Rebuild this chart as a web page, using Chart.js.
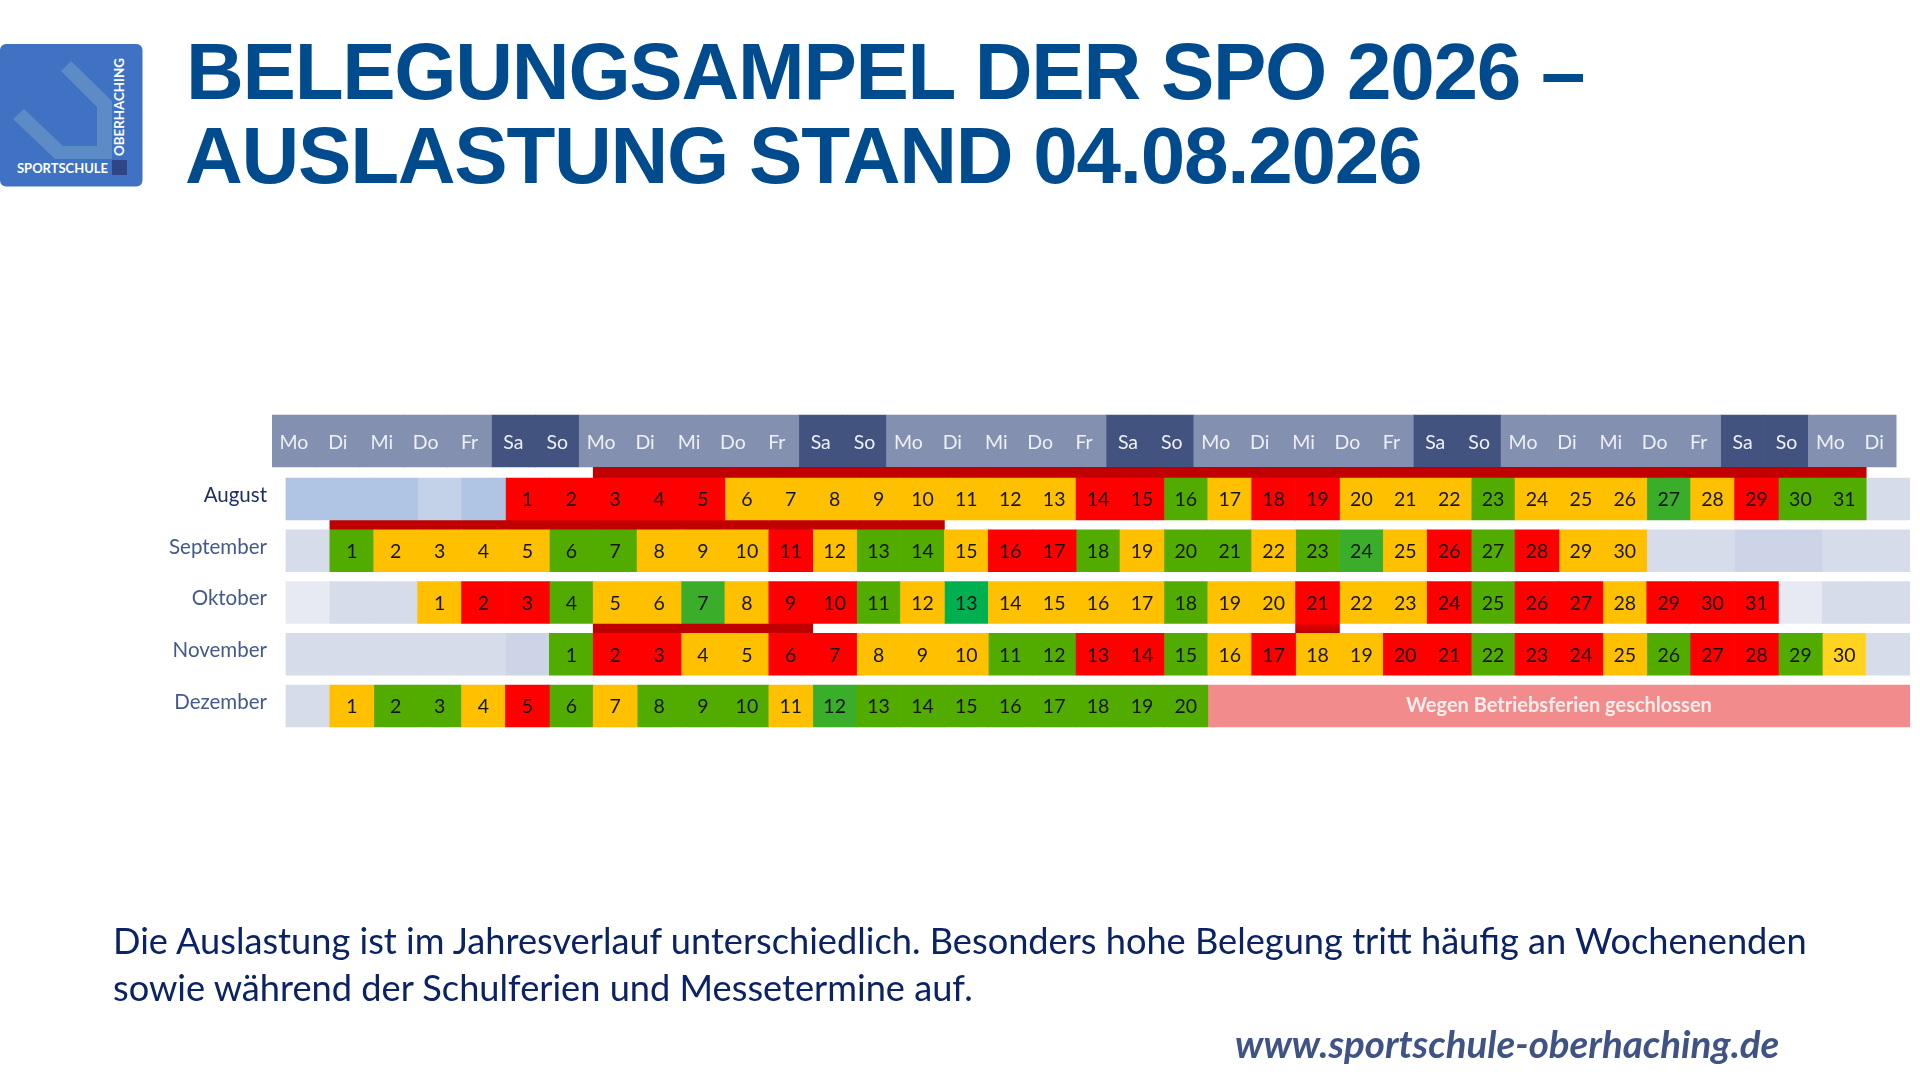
<!DOCTYPE html>
<html lang="de"><head><meta charset="utf-8"><title>Belegungsampel</title>
<script src="https://cdn.jsdelivr.net/npm/chart.js@4"></script>
<style>
html,body{margin:0;padding:0;background:#fff;width:1920px;height:1091px;overflow:hidden}
#c{position:absolute;left:0;top:0}
.t{position:absolute;white-space:nowrap;margin:0}
#t1,#t2{font:bold 80px "Liberation Sans",Arial,sans-serif;color:#004B8D;left:186px;letter-spacing:-1.25px}
#t1{top:26px}#t2{top:110px;left:185px}
.b{font:36.2px Lato,sans-serif;color:#0B2364;left:113px}
#url{font:italic bold 38.5px Lato,sans-serif;color:#3F5385;left:1235px;top:1020px}
#logo{position:absolute;left:0;top:44px}
</style></head><body>
<svg id="logo" width="143" height="143" viewBox="0 0 143 143">
<rect x="0" y="0" width="142.500" height="142.500" rx="6" fill="#3F72C2"/>
<path d="M71 17L112 57V115H55L13 75L24 65L63 102H97V63L61 27Z" fill="#5C8BC6"/>
<rect x="112" y="116" width="15" height="15" fill="#2F4586"/>
<text x="17" y="129" font-family="Lato" font-weight="700" font-size="14" fill="#fff" textLength="91" lengthAdjust="spacingAndGlyphs">SPORTSCHULE</text>
<text transform="translate(124 112) rotate(-90)" font-family="Lato" font-weight="700" font-size="14" fill="#fff" textLength="98" lengthAdjust="spacingAndGlyphs">OBERHACHING</text>
</svg>
<h1 class="t" id="t1">BELEGUNGSAMPEL DER SPO 2026 –</h1>
<h1 class="t" id="t2">AUSLASTUNG STAND 04.08.2026</h1>
<canvas id="c" width="1920" height="1091"></canvas>
<p class="t b" style="top:918px">Die Auslastung ist im Jahresverlauf unterschiedlich. Besonders hohe Belegung tritt häufig an Wochenenden</p>
<p class="t b" style="top:965px">sowie während der Schulferien und Messetermine auf.</p>
<div class="t" id="url">www.sportschule-oberhaching.de</div>
<script>
const months = ['August','September','Oktober','November','Dezember'];
const weekdays = ['Mo','Di','Mi','Do','Fr','Sa','So','Mo','Di','Mi','Do','Fr','Sa','So','Mo','Di','Mi','Do','Fr','Sa','So','Mo','Di','Mi','Do','Fr','Sa','So','Mo','Di','Mi','Do','Fr','Sa','So','Mo','Di'];
// column of the first day in each month, and its number of listed days
const monthStart = [5,1,3,6,1];
const monthDays = [31,30,31,30,20];
// status per column: r=voll, y=mittel, o=mittel hell, g=frei, l=frei hell, e=frei smaragd; b,c,d,f,h=leere Felder
const august = ['b','b','b','c','b','r','r','r','r','r','y','y','y','y','y','y','y','y','r','r','g','y','r','r','y','y','y','g','y','y','y','l','y','r','g','g','d'];
const september = ['d','g','y','y','y','y','g','g','y','y','y','r','y','g','g','y','r','r','g','y','g','g','y','g','l','y','r','g','r','y','y','d','d','f','f','d','d'];
const oktober = ['h','d','d','y','r','r','g','y','y','l','y','r','r','g','y','e','y','y','y','y','g','y','y','r','y','y','r','g','r','r','y','r','r','r','h','d','d'];
const november = ['d','d','d','d','d','f','g','r','r','y','y','r','r','y','y','y','g','g','r','r','g','y','r','y','y','r','r','g','r','r','y','g','r','r','g','o','d'];
const dezember = ['d','y','g','g','y','r','g','y','g','g','g','y','l','g','g','g','g','g','g','g','g'];
const closedRange = [21,37];
const closedLabel = 'Wegen Betriebsferien geschlossen';
// dark red bars between the rows: [row position, first column, end column]
const peakBars = [[-0.512,7,36],[0.502,1,15],[2.502,7,12]];
const peakFade = [2.502,23,24];
const headerRow = -1.1208;
const headerRule = [3,3.035];

const palette = {r:'#FF0000',y:'#FFC000',o:'#FFD320',g:'#52AC00',l:'#3AAE2A',e:'#00B050',b:'#B0C5E3',c:'#C3D2E8',d:'#D7DCEB',f:'#CDD4E7',h:'#E8EAF3'};
const rows = [august,september,oktober,november,dezember];
const groups = {};
rows.forEach((row,r)=>row.forEach((code,c)=>{
  const day = c-monthStart[r]+1;
  const inMonth = day>=1 && day<=monthDays[r];
  (groups[code]=groups[code]||[]).push({x:[c,c+1],y:r,txt:inMonth?String(day):null});
}));
const datasets = Object.keys(groups).map(code=>({
  label:code,data:groups[code],backgroundColor:palette[code],xAxisID:'x',yAxisID:'yRows',maxBarThickness:42
}));
datasets.push({label:'geschlossen',data:[{x:closedRange,y:4,closed:closedLabel}],backgroundColor:'#F28C8C',xAxisID:'x',yAxisID:'yRows',maxBarThickness:42});
datasets.push({label:'Spitze',data:peakBars.map(p=>({x:[p[1],p[2]],y:p[0]})),backgroundColor:'#C00000',xAxisID:'x',yAxisID:'yGap',maxBarThickness:10.5});
datasets.push({label:'Spitze 21.10.',data:[{x:[peakFade[1],peakFade[2]],y:peakFade[0]}],xAxisID:'x',yAxisID:'yGap',maxBarThickness:10.5,
  backgroundColor(ctx){
    const a=ctx.chart.chartArea,s=ctx.chart.scales.yGap; if(!a||!s) return '#C00000';
    const m=s.getPixelForValue(peakFade[0]);
    const g=ctx.chart.ctx.createLinearGradient(0,m-5,0,m+5);g.addColorStop(0,'#F00000');g.addColorStop(1,'#B80000');return g;
  }});
const isWeekend = d=>d==='Sa'||d==='So';
const headerData = k=>weekdays.map((d,i)=>({d,i})).filter(o=>isWeekend(o.d)===k).map(o=>({x:[o.i,o.i+1],y:headerRow}));
datasets.push({label:'Wochentag',data:headerData(false),backgroundColor:'#8390AF',xAxisID:'xHead',yAxisID:'yHead',maxBarThickness:52});
datasets.push({label:'Wochenende',data:headerData(true),backgroundColor:'#43537F',xAxisID:'xHead',yAxisID:'yHead',maxBarThickness:52});
datasets.push({label:'Trenner',data:[{x:headerRule,y:headerRow}],backgroundColor:'#C9D0E0',xAxisID:'xHead',yAxisID:'yHead',maxBarThickness:52});

const cellText = {id:'cellText',afterDatasetsDraw(chart){
  const g=chart.ctx;g.save();g.textAlign='center';g.textBaseline='middle';
  chart.data.datasets.forEach((ds,i)=>{
    const meta=chart.getDatasetMeta(i);
    ds.data.forEach((p,j)=>{
      const el=meta.data[j];
      if(p.txt){g.font='19.5px Lato';g.fillStyle='#151515';g.fillText(p.txt,(el.x+el.base)/2,el.y+1);}
      if(p.closed){g.font='bold 20px Lato';g.fillStyle='#FBEDED';g.fillText(p.closed,(el.x+el.base)/2,el.y);}
    });
  });
  g.restore();
}};
const hiddenY = {type:'linear',axis:'y',reverse:true,offset:false,min:-2,max:5,display:false};
const chart = new Chart(document.getElementById('c'),{
  type:'bar',
  data:{datasets},
  plugins:[cellText],
  options:{
    indexAxis:'y',responsive:false,animation:false,
    datasets:{bar:{grouped:false,barPercentage:1,categoryPercentage:1}},
    layout:{padding:{left:0,right:6,top:395.5,bottom:333.25}},
    plugins:{legend:{display:false},tooltip:{enabled:false},title:{display:false}},
    scales:{
      x:{type:'linear',axis:'x',min:-14/44,max:37,display:false},
      xHead:{type:'linear',axis:'x',position:'top',min:0,max:37+14/44,
        grid:{display:false,drawTicks:false},border:{display:false},
        afterBuildTicks(s){s.ticks=weekdays.map((d,i)=>({value:i+0.5}));},
        afterFit(s){s.height=0;},
        ticks:{z:1,mirror:true,padding:36,autoSkip:false,maxRotation:0,minRotation:0,color:'#EEF0F6',font:{family:'Lato',size:19.5},
          callback:(v,i)=>weekdays[i]}},
      yRows:{type:'linear',axis:'y',position:'left',reverse:true,offset:false,min:-2,max:5,
        grid:{display:false,drawTicks:false},border:{display:false},
        afterBuildTicks(s){s.ticks=months.map((m,i)=>({value:i-0.07}));},
        afterFit(s){s.width=272;},
        ticks:{padding:5,autoSkip:false,font:{family:'Lato',size:20.5},
          color:c=>c.index===0?'#1E2F63':'#44598A',callback:(v,i)=>months[i]}},
      yHead:hiddenY,
      yGap:Object.assign({},hiddenY)
    }
  }
});
</script>
</body></html>
